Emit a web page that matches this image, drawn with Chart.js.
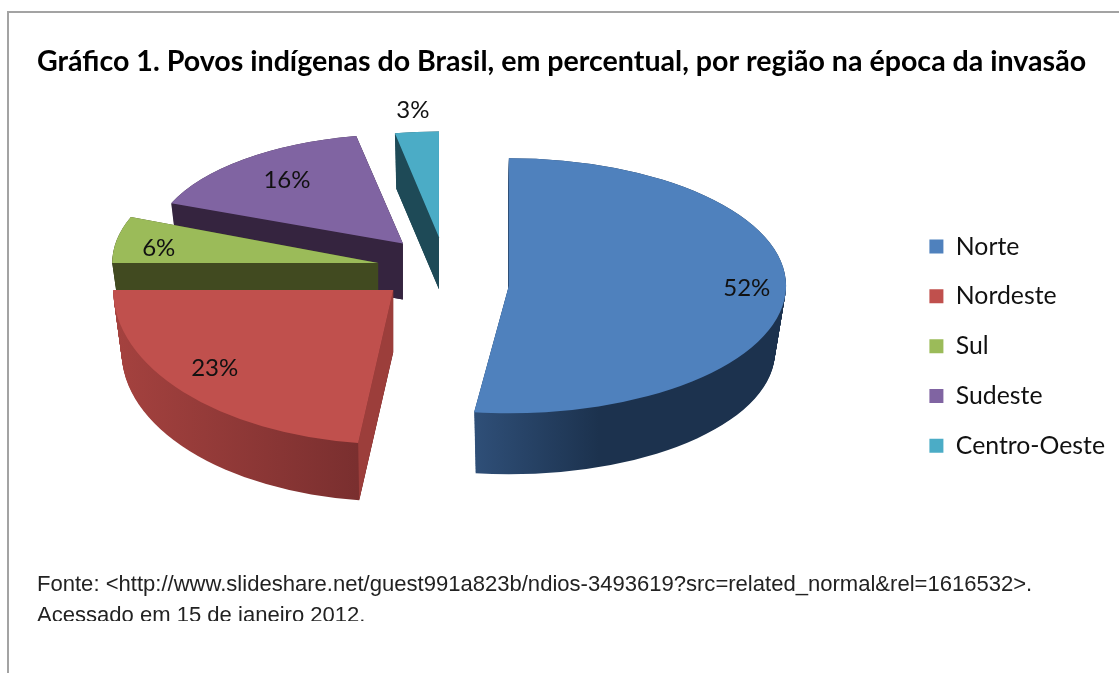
<!DOCTYPE html>
<html lang="pt-BR">
<head>
    <meta charset="UTF-8">
    <title>Povos indígenas do Brasil</title>
    <script src="https://cdn.jsdelivr.net/npm/chart.js@4"></script>
    <style>
        * {
            margin: 0;
            padding: 0;
            box-sizing: border-box;
        }

        body {
            background: #fff;
            width: 1119px;
            height: 673px;
            overflow: hidden;
            position: relative;
        }

        .frame {
            position: absolute;
            left: 7px;
            top: 11px;
            right: 0;
            bottom: 0;
            border-left: 2px solid #a3a3a3;
            border-top: 2px solid #a3a3a3;
        }

        #pieChart {
            position: absolute;
            left: 0;
            top: 0;
        }

        .source {
            position: absolute;
            left: 37px;
            top: 568px;
            height: 53px;
            overflow: hidden;
            font-family: 'Liberation Sans', Arial, sans-serif;
            font-size: 22.05px;
            line-height: 31px;
            color: #222;
            white-space: nowrap;
        }
    </style>
</head>
<body>
    <div class="frame"></div>
    <canvas id="pieChart" width="1119" height="673"></canvas>
    <div class="source">
        Fonte: &lt;http://www.slideshare.net/guest991a823b/ndios-3493619?src=related_normal&amp;rel=1616532&gt;.<br>
        Acessado em 15 de janeiro 2012.
    </div>

    <script>
        const regions = ['Norte', 'Nordeste', 'Sul', 'Sudeste', 'Centro-Oeste'];
        const shares = [52, 23, 6, 16, 3];
        const titleText = 'Gráfico 1. Povos indígenas do Brasil, em percentual, por região na época da invasão';

        const topColors = ['#4f81bd', '#c0504d', '#9bbb59', '#8064a2', '#4bacc6'];
        // rim colours, left to right, and the colour of the cut face
        const rimLeft = ['#2f4f78', '#a5423f', '#414a20', '#35243f', '#1e4a57'];
        const rimRight = ['#1c324e', '#7a2f2f', '#414a20', '#35243f', '#1e4a57'];
        const rimFade = [0.4, 1, 1, 1, 1];
        const cutFace = ['#1c324e', '#9c3e3b', '#414a20', '#35243f', '#1e4a57'];

        // 3D look: explosion, per-slice foreshortening, extrusion height
        const explode = [64, 69, 68, 66, 64];
        const sizeScale = [0.99, 1, 0.95, 0.89, 0.84];
        const flatten = [0.46, 0.55, 0.47, 0.44, 0.45];
        const lift = [16, -3, 1, -2, -2];
        const depth = [66, 62, 56, 56, 52];
        const baseShrink = [0.96, 0.97, 0.97, 0.97, 0.97];

        // percentage labels: distance along the slice radius, then a small vertical nudge
        const labelAt = [0.86, 0.85, 0.84, 0.73, 1.18];
        const labelDrop = [-4, -8, 5, -2, -3];

        const pieX = 445;
        const pieY = 268;
        const baseRadius = 280;
        const drawOrder = [4, 3, 2, 1, 0];

        function sliceGeometry(arc, i) {
            const { startAngle, endAngle, outerRadius } = arc.getProps(['startAngle', 'endAngle', 'outerRadius']);
            const mid = (startAngle + endAngle) / 2;
            return {
                startAngle,
                endAngle,
                mid,
                r: outerRadius,
                k: flatten[i],
                x: pieX + Math.cos(mid) * explode[i],
                y: pieY + Math.sin(mid) * explode[i] * flatten[i] + lift[i]
            };
        }

        // horizontal extent of the rim, so the shading spans what is actually visible
        function rimSpan(g) {
            const full = Math.PI * 2;
            const passes = a => {
                const turn = Math.ceil((g.startAngle - a) / full);
                return a + turn * full <= g.endAngle;
            };
            const ends = [Math.cos(g.startAngle), Math.cos(g.endAngle)];
            const left = passes(Math.PI) ? -1 : Math.min(...ends);
            const right = passes(0) ? 1 : Math.max(...ends);
            return [g.x + left * g.r, g.x + right * g.r];
        }

        function drawWall(ctx, g, i) {
            const [spanLeft, spanRight] = rimSpan(g);
            const gradient = ctx.createLinearGradient(spanLeft, 0, spanRight, 0);
            gradient.addColorStop(0, rimLeft[i]);
            gradient.addColorStop(rimFade[i], rimRight[i]);
            ctx.fillStyle = gradient;

            // sweep the slice outline from its base up to its top face
            for (let step = depth[i]; step >= 0; step--) {
                const t = step / depth[i];
                const r = g.r * (1 - (1 - baseShrink[i]) * t);
                ctx.beginPath();
                ctx.moveTo(g.x, g.y + step);
                ctx.ellipse(g.x, g.y + step, r, r * g.k, 0, g.startAngle, g.endAngle);
                ctx.closePath();
                ctx.fill();
            }

            // cut face along the starting edge
            const topX = g.x + Math.cos(g.startAngle) * g.r;
            const topY = g.y + Math.sin(g.startAngle) * g.r * g.k;
            const lowR = g.r * baseShrink[i];
            ctx.fillStyle = cutFace[i];
            ctx.beginPath();
            ctx.moveTo(g.x, g.y);
            ctx.lineTo(topX, topY);
            ctx.lineTo(g.x + Math.cos(g.startAngle) * lowR, g.y + depth[i] + Math.sin(g.startAngle) * lowR * g.k);
            ctx.lineTo(g.x, g.y + depth[i]);
            ctx.closePath();
            ctx.fill();
        }

        const tiltedPie = {
            id: 'tiltedPie',
            afterDatasetsUpdate(chart) {
                chart.getDatasetMeta(0).data.forEach((arc, i) => {
                    arc.outerRadius = baseRadius * sizeScale[i];
                });
            },
            beforeDatasetsDraw(chart) {
                const ctx = chart.ctx;
                const arcs = chart.getDatasetMeta(0).data;

                drawOrder.forEach(i => {
                    const g = sliceGeometry(arcs[i], i);
                    drawWall(ctx, g, i);

                    // top face: the arc element itself, squashed onto the tilted plane
                    ctx.save();
                    ctx.translate(g.x, g.y);
                    ctx.scale(1, g.k);
                    ctx.translate(-arcs[i].x, -arcs[i].y);
                    arcs[i].draw(ctx);
                    ctx.restore();
                });

                ctx.save();
                ctx.font = "24px Lato, sans-serif";
                ctx.fillStyle = '#111';
                ctx.textAlign = 'center';
                ctx.textBaseline = 'middle';
                shares.forEach((share, i) => {
                    const g = sliceGeometry(arcs[i], i);
                    const lx = g.x + Math.cos(g.mid) * g.r * labelAt[i];
                    const ly = g.y + Math.sin(g.mid) * g.r * g.k * labelAt[i] + labelDrop[i];
                    ctx.fillText(share + '%', lx, ly);
                });
                ctx.restore();

                return false;
            }
        };

        new Chart(document.getElementById('pieChart'), {
            type: 'pie',
            data: {
                labels: regions,
                datasets: [{
                    data: shares,
                    backgroundColor: topColors,
                    borderWidth: 0
                }]
            },
            options: {
                responsive: false,
                animation: false,
                layout: {
                    padding: { left: 37, right: 4, top: 0, bottom: 70 }
                },
                plugins: {
                    title: {
                        display: true,
                        text: titleText,
                        align: 'start',
                        color: '#000',
                        font: { family: 'Lato, sans-serif', size: 28.6, weight: 'bold' },
                        padding: { top: 45, bottom: 10 }
                    },
                    legend: {
                        position: 'right',
                        fullSize: false,
                        labels: {
                            color: '#111',
                            font: { family: 'Lato, sans-serif', size: 24.8 },
                            boxWidth: 14,
                            boxHeight: 14,
                            padding: 25
                        }
                    },
                    tooltip: { enabled: false }
                }
            },
            plugins: [tiltedPie]
        });
    </script>
</body>
</html>
